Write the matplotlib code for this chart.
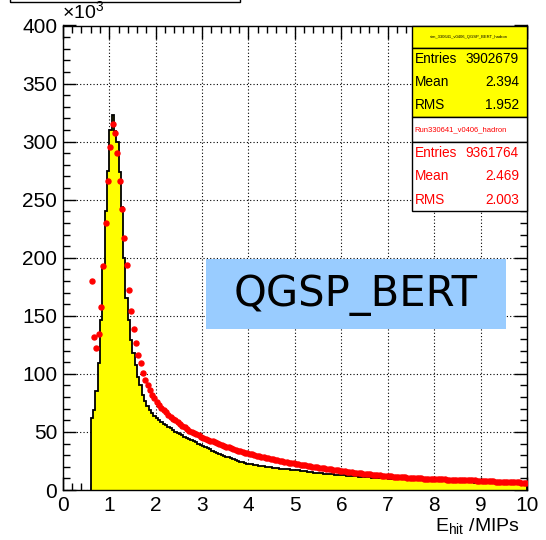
import numpy as np
import matplotlib
matplotlib.use('Agg')
import matplotlib.pyplot as plt
from matplotlib.patches import Rectangle
from matplotlib.ticker import MultipleLocator

plt.rcParams['font.family'] = ['Liberation Sans', 'DejaVu Sans']
plt.rcParams['mathtext.fontset'] = 'custom'
plt.rcParams['mathtext.rm'] = 'Liberation Sans'

# bin edges of both histograms (E_hit in MIPs), counts in units of 10^3
edges = np.round(np.arange(0.6, 10.0001, 0.05), 3)

# simulation (QGSP_BERT), yellow filled histogram
mc_peak = [62, 69, 85, 109, 146, 192, 240, 275, 310, 323,
           309, 300, 274, 244, 200, 165, 146, 129, 118, 108,
           97, 90, 82, 77, 72, 69, 66, 64, 62, 60,
           58.5, 57, 56, 54.5, 53, 51.5, 50, 49, 48, 47,
           46, 45, 44, 43, 42, 41, 40, 39]
mc_tail = [38, 37, 36, 35, 34, 33, 32, 31.2, 30.4, 29.6, 28.8, 28, 27.2, 26.5, 25.8, 25.1, 24.5, 23.9, 23.3, 22.8,
           22.4, 22, 21.6, 21.2, 20.9, 20.6, 20.3, 20, 19.7, 19.4, 19.1, 18.9, 18.7, 18.5, 18.3, 18.1, 17.9, 17.7, 17.5, 17.3,
           17.1, 16.9, 16.6, 16.4, 16.1, 15.8, 15.6, 15.3, 15.0, 14.8, 14.6, 14.4, 14.2, 14.0, 13.8, 13.6, 13.4, 13.2, 13.0, 12.8,
           12.7, 12.6, 12.4, 12.3, 12.1, 12.0, 11.8, 11.6, 11.5, 11.3, 11.2, 11.0, 10.9, 10.7, 10.6, 10.5, 10.4, 10.3, 10.2, 10.0,
           9.9, 9.8, 9.7, 9.6, 9.5, 9.4, 9.3, 9.2, 9.1, 9.0, 8.9, 8.8, 8.7, 8.6, 8.5, 8.4, 8.3, 8.2, 8.1, 8.0,
           7.9, 7.8, 7.7, 7.6, 7.5, 7.4, 7.3, 7.2, 7.1, 7.0, 6.9, 6.85, 6.8, 6.7, 6.6, 6.55, 6.5, 6.4, 6.35, 6.3,
           6.2, 6.1, 6.0, 5.9, 5.8, 5.7, 5.6, 5.55, 5.5, 5.4, 5.3, 5.25, 5.2, 5.1, 5.0, 4.95, 4.9, 4.8, 4.7, 4.6]

# data run330641, red markers
data_peak = [180, 132, 122, 134, 158, 193, 230, 266, 295, 315,
             307, 290, 266, 242, 217, 194, 172, 154, 139, 127,
             116, 109, 101, 95, 90, 86, 82, 79, 76, 73.5,
             71, 69, 67, 65, 63, 61.5, 60, 58.5, 57, 55.5,
             54, 52.5, 51, 50, 49, 48, 47, 46]
data_tail = [45, 44.2, 43.4, 42.6, 41.8, 41, 40.2, 39.5, 38.8, 38.1, 37.4, 36.7, 36, 35.3, 34.6, 34, 33.4, 32.8, 32.2, 31.6,
             31.1, 30.6, 30.1, 29.6, 29.1, 28.6, 28.1, 27.6, 27.2, 26.8, 26.4, 26, 25.6, 25.2, 24.8, 24.4, 24, 23.6, 23.3, 23,
             22.6, 22.2, 21.9, 21.6, 21.2, 20.9, 20.6, 20.2, 19.9, 19.6, 19.3, 19, 18.7, 18.4, 18.1, 17.8, 17.5, 17.2, 16.9, 16.6,
             16.3, 16.0, 15.8, 15.5, 15.3, 15.0, 14.8, 14.5, 14.3, 14.0, 13.8, 13.6, 13.4, 13.2, 13.0, 12.8, 12.6, 12.4, 12.2, 12.0,
             11.9, 11.7, 11.6, 11.4, 11.3, 11.1, 11.0, 10.9, 10.7, 10.6, 10.5, 10.4, 10.3, 10.2, 10.0, 9.9, 9.8, 9.7, 9.6, 9.5,
             9.4, 9.3, 9.25, 9.2, 9.1, 9.0, 8.95, 8.9, 8.8, 8.75, 8.7, 8.6, 8.55, 8.5, 8.4, 8.3, 8.25, 8.2, 8.1, 8.0,
             7.9, 7.8, 7.7, 7.6, 7.5, 7.4, 7.3, 7.2, 7.1, 7.0, 6.95, 6.9, 6.8, 6.7, 6.65, 6.6, 6.5, 6.45, 6.4, 6.3]

mc = np.array(mc_peak + mc_tail)
data = np.array(data_peak + data_tail)
centers = 0.5 * (edges[:-1] + edges[1:])

mc_stats = [('Entries', '3902679'), ('Mean', '2.394'), ('RMS', '1.952')]
data_stats = [('Entries', '9361764'), ('Mean', '2.469'), ('RMS', '2.003')]
mc_title = 'sim_330641_v0406_QGSP_BERT_hadron'
data_title = 'Run330641_v0406_hadron'

W, H = 546, 540
fig = plt.figure(figsize=(W / 100, H / 100), dpi=100)
ax = fig.add_axes([62.8 / W, 1 - 490 / H, (527 - 62.8) / W, (490 - 25.5) / H])

ax.stairs(mc, edges, fill=True, color='#ffff00', zorder=2)
ax.stairs(mc, edges, color='black', lw=1.3, baseline=0, zorder=3)
ax.plot(centers, data, 'o', color='red', ms=3.6, mec='red', zorder=4)

ax.set_xlim(0, 10)
ax.set_ylim(0, 400)
ax.xaxis.set_major_locator(MultipleLocator(1))
ax.xaxis.set_minor_locator(MultipleLocator(0.2))
ax.yaxis.set_major_locator(MultipleLocator(50))
ax.yaxis.set_minor_locator(MultipleLocator(10))
ax.tick_params(which='both', direction='in', top=True, right=True, labelsize=15, width=1, pad=4)
ax.tick_params(which='major', length=9.5)
ax.tick_params(which='minor', length=5)
ax.grid(True, which='major', color='black', ls=(0, (1, 2)), lw=0.8, zorder=1)
ax.set_axisbelow(True)
for s in ax.spines.values():
    s.set_linewidth(1)

fig.text(62 / W, 1 - 22 / H, r'$\mathregular{\times10^{3}}$', fontsize=14, va='bottom', ha='left')
fig.text(520 / W, 1 - 532 / H, r'E$_{\mathregular{hit}}$ /MIPs', fontsize=14, ha='right', va='baseline')

# partial title box at the top-left
fig.add_artist(Rectangle((10 / W, 1 - 2 / H), 230 / W, 0.05, transform=fig.transFigure,
                         fill=False, ec='black', lw=1, clip_on=False))


def box(x0, y0, x1, y1, fc):
    fig.add_artist(Rectangle((x0 / W, 1 - y1 / H), (x1 - x0) / W, (y1 - y0) / H,
                             transform=fig.transFigure, fc=fc, ec='black', lw=1, zorder=5))


def txt(px, py, s, **kw):
    fig.text(px / W, 1 - py / H, s, va='center', zorder=6, **kw)


# stats boxes
box(411.7, 25.5, 527, 47.7, '#ffff00')
box(411.7, 47.7, 527, 117.3, '#ffff00')
box(411.7, 117.3, 527, 141.7, 'white')
box(411.7, 141.7, 527, 210.7, 'white')
txt(469, 36.5, mc_title, fontsize=3, ha='center', color='black')
txt(414, 129.5, data_title, fontsize=5.5, ha='left', color='red')
for i, (k, v) in enumerate(mc_stats):
    txt(415, 58.5 + i * 23.3, k, fontsize=9.8, ha='left', color='black')
    txt(519, 58.5 + i * 23.3, v, fontsize=9.8, ha='right', color='black')
for i, (k, v) in enumerate(data_stats):
    txt(415, 153 + i * 23.3, k, fontsize=9.8, ha='left', color='red')
    txt(519, 153 + i * 23.3, v, fontsize=9.8, ha='right', color='red')

# model label
fig.add_artist(Rectangle((206 / W, 1 - 329.3 / H), 300 / W, 70 / H, transform=fig.transFigure,
                         fc='#99ccff', ec='none', zorder=5))
fig.text(356 / W, 1 - 295 / H, 'QGSP_BERT', fontsize=30, family='DejaVu Sans',
         ha='center', va='center', zorder=6)

fig.savefig('out.png', dpi=100)
